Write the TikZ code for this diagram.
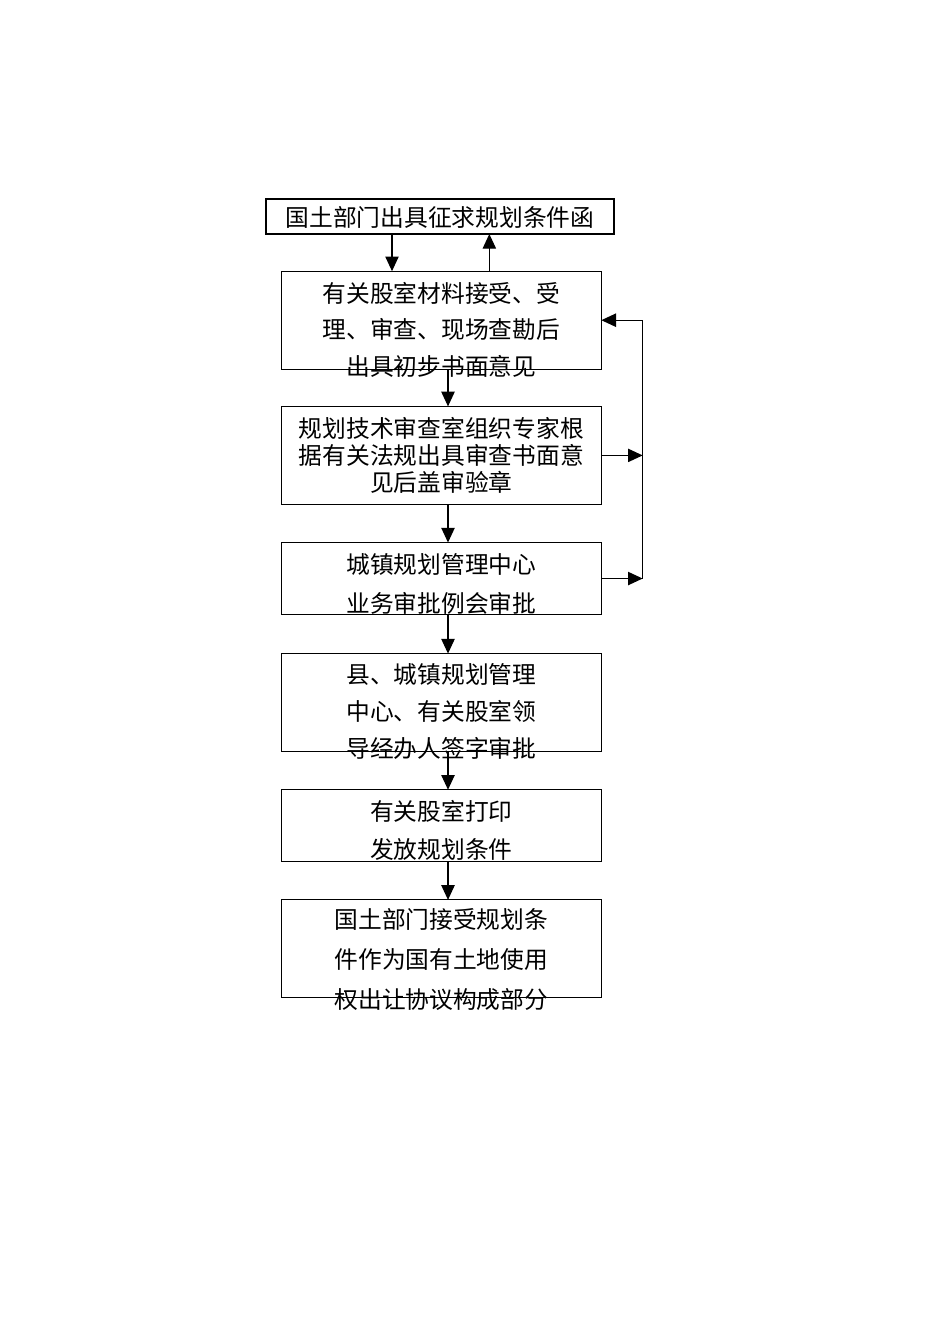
\documentclass[tikz,border=0pt]{standalone}
\usepackage{fontspec}
\newfontfamily\cjk{Noto Sans CJK SC}
\usetikzlibrary{positioning, arrows.meta}

\begin{document}
\begin{tikzpicture}[x = 0.75pt, y = -0.75pt, node distance = 27.9pt, line width = 0.9pt,
  stepbox/.style={draw, rectangle, inner sep = 0pt, outer sep = 0pt, minimum width = 240pt},
  lbl/.style={align = center, inner sep = 0pt, font = \cjk\fontsize{17.8}{#1}\selectfont},
  arr/.style={-{Triangle[length = 11pt, width = 10pt]}}]
  \useasboundingbox (0,0) rectangle (950,1344);

  % boxes
  \node [stepbox, minimum width = 261pt, minimum height = 26.25pt] (cond_req) at (440,216.5) {};
  \node [stepbox, minimum height = 73.5pt][below = of cond_req.south, anchor = north, xshift = 1pt] (accept) {};
  \node [stepbox, minimum height = 73.5pt][below = of accept] (tech_review) {};
  \node [stepbox, minimum height = 54pt][below = 28.6pt of tech_review] (meeting) {};
  \node [stepbox, minimum height = 73.5pt][below = 29.3pt of meeting] (sign) {};
  \node [stepbox, minimum height = 54pt][below = 28.6pt of sign] (print) {};
  \node [stepbox, minimum height = 73.5pt][below = 28.6pt of print] (receive) {};

  % texts
  \node [lbl = 20pt, yshift = -1pt] (cond_req_t) at (cond_req) {国土部门出具征求规划条件函};
  \node [lbl = 27.4pt, yshift = -7pt] (accept_t) at (accept) {有关股室材料接受、受\\理、审查、现场查勘后\\出具初步书面意见};
  \node [lbl = 20.6pt] (tech_review_t) at (tech_review) {规划技术审查室组织专家根\\据有关法规出具审查书面意\\见后盖审验章};
  \node [lbl = 29.3pt, yshift = -4pt] (meeting_t) at (meeting) {城镇规划管理中心\\业务审批例会审批};
  \node [lbl = 28pt, yshift = -6.75pt] (sign_t) at (sign) {县、城镇规划管理\\中心、有关股室领\\导经办人签字审批};
  \node [lbl = 28.5pt, yshift = -3.75pt] (print_t) at (print) {有关股室打印\\发放规划条件};
  \node [lbl = 30pt, yshift = -8.25pt] (receive_t) at (receive) {国土部门接受规划条\\件作为国有土地使用\\权出让协议构成部分};

  % edges
  \draw [arr] ([xshift = -36pt]cond_req.south) -- ([xshift = -36pt]cond_req.south |- accept.north);
  \draw [arr] ([xshift = 37pt]cond_req.south |- accept.north) -- ([xshift = 37pt]cond_req.south);
  \draw [arr] ([xshift = 5pt]accept.south) -- ([xshift = 5pt]tech_review.north);
  \draw [arr] ([xshift = 5pt]tech_review.south) -- ([xshift = 5pt]meeting.north);
  \draw [arr] ([xshift = 5pt]meeting.south) -- ([xshift = 5pt]sign.north);
  \draw [arr] ([xshift = 5pt]sign.south) -- ([xshift = 5pt]print.north);
  \draw [arr] ([xshift = 5pt]print.south) -- ([xshift = 5pt]receive.north);

  % loop back on the right
  \coordinate [right = 31pt of tech_review.east] (loop);
  \draw [arr] (tech_review.east) -- (loop);
  \draw [arr] (meeting.east) -- (meeting.east -| loop);
  \draw [arr] (meeting.east -| loop) -- (accept.east -| loop) -- (accept.east);
\end{tikzpicture}
\end{document}
